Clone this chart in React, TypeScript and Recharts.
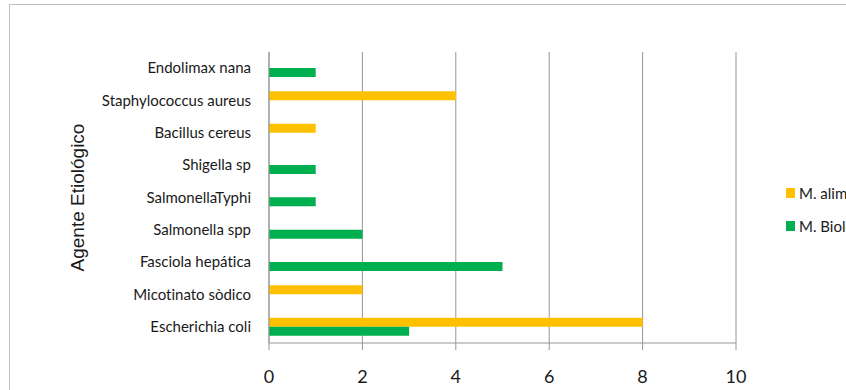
import { BarChart, Bar, XAxis, YAxis, CartesianGrid } from "recharts";

// Categories from top to bottom as shown in the chart
const agentes = [
  "Endolimax nana",
  "Staphylococcus aureus",
  "Bacillus cereus",
  "Shigella sp",
  "SalmonellaTyphi",
  "Salmonella spp",
  "Fasciola hepática",
  "Micotinato sòdico",
  "Escherichia coli",
];

const alimentarias = [0, 4, 1, 0, 0, 0, 0, 2, 8];
const biologicas = [1, 0, 0, 1, 1, 2, 5, 0, 3];

const seriesNames = ["M. alimentaria", "M. Biológica"];
const xTicks = [0, 2, 4, 6, 8, 10];

const ORANGE = "#FFC000";
const GREEN = "#00B050";
const GRID = "#969696";
const TEXT = "#1a1a1a";

const data = agentes.map((name, i) => ({
  name,
  alim: alimentarias[i],
  biol: biologicas[i],
}));

// no "ti" ligature, the original font does not have one
const noLig = { fontVariantLigatures: "none" } as const;

export default function App() {
  const legendItems = [
    { name: seriesNames[0], color: ORANGE },
    { name: seriesNames[1], color: GREEN },
  ];
  return (
    <div
      style={{
        position: "absolute",
        left: 0,
        top: 0,
        width: 846,
        height: 390,
        overflow: "hidden",
        background: "#fff",
      }}
    >
      <div
        style={{
          position: "absolute",
          left: 9,
          top: 4,
          width: 900,
          height: 420,
          border: "1px solid #bfbfbf",
        }}
      />
      <div style={{ position: "absolute", left: 0, top: 0 }}>
        <BarChart
          width={846}
          height={390}
          data={data}
          layout="vertical"
          margin={{ top: 52, right: 110, bottom: 0, left: 0 }}
          barGap={0}
        >
          <CartesianGrid horizontal={false} stroke={GRID} strokeWidth={1} />
          <XAxis
            type="number"
            domain={[0, 10]}
            ticks={xTicks}
            interval={0}
            height={47}
            tickSize={7}
            tickMargin={20}
            stroke={GRID}
            tick={{ fontFamily: "Lato", fill: TEXT, fontSize: 18, style: noLig }}
          />
          <YAxis
            type="category"
            dataKey="name"
            width={269}
            interval={0}
            tickLine={false}
            tickSize={0}
            tickMargin={18}
            stroke={GRID}
            tick={{ fontFamily: "Lato", fill: TEXT, fontSize: 15, style: noLig }}
            label={{
              value: "Agente Etiológico",
              angle: -90,
              position: "center",
              dx: -57,
              style: {
                fontSize: 19,
                fill: TEXT,
                fontFamily: "Liberation Sans",
              },
            }}
          />
          <Bar
            dataKey="alim"
            name={seriesNames[0]}
            fill={ORANGE}
            barSize={9}
            isAnimationActive={false}
          />
          <Bar
            dataKey="biol"
            name={seriesNames[1]}
            fill={GREEN}
            barSize={9}
            isAnimationActive={false}
          />
        </BarChart>
      </div>
      {/* legend drawn by hand so it does not shrink the plot */}
      <div
        style={{
          position: "absolute",
          left: 786,
          top: 176,
          fontFamily: "Lato",
          fontSize: 15,
          color: TEXT,
          ...noLig,
        }}
      >
        {legendItems.map((it) => (
          <div
            key={it.name}
            style={{ display: "flex", alignItems: "center", height: 33 }}
          >
            <span
              style={{
                display: "inline-block",
                width: 9,
                height: 10,
                background: it.color,
                marginRight: 4,
              }}
            />
            <span style={{ whiteSpace: "nowrap" }}>{it.name}</span>
          </div>
        ))}
      </div>
    </div>
  );
}
